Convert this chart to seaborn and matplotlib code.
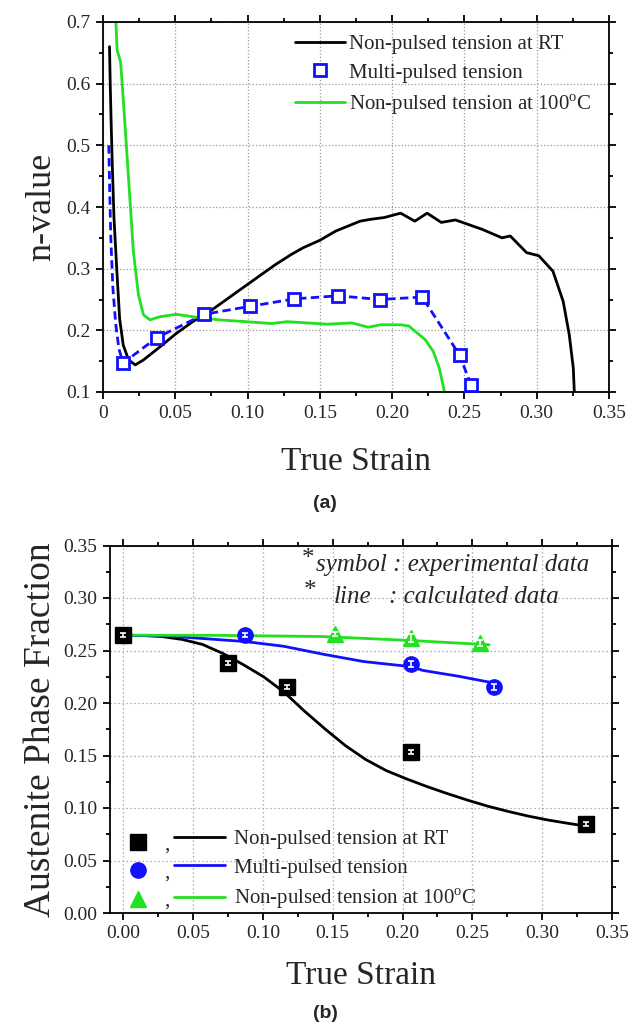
import numpy as np
import pandas as pd
import matplotlib
matplotlib.use("Agg")
import matplotlib.pyplot as plt
import seaborn as sns
from matplotlib.lines import Line2D
from matplotlib.ticker import MultipleLocator

# -------------------------
# (a) n-value vs true strain
# -------------------------
rt_x = [0.0045, 0.0050, 0.0056, 0.0064, 0.0076, 0.0095, 0.0115, 0.0140, 0.0177, 0.0223,
        0.0280, 0.0393, 0.0507, 0.0620, 0.0734, 0.0848, 0.0961, 0.1075, 0.1189, 0.1302,
        0.1385, 0.1500, 0.1610, 0.1778, 0.1850, 0.1947, 0.2059, 0.2157, 0.2242, 0.2340,
        0.2438, 0.2620, 0.2760, 0.2817, 0.2930, 0.3014, 0.3112, 0.3183, 0.3225, 0.3253,
        0.3260]
rt_y = [0.660, 0.600, 0.540, 0.470, 0.382, 0.300, 0.219, 0.176, 0.152, 0.144,
        0.152, 0.173, 0.195, 0.214, 0.230, 0.249, 0.268, 0.287, 0.306, 0.323,
        0.334, 0.346, 0.361, 0.377, 0.380, 0.383, 0.390, 0.377, 0.390, 0.375,
        0.379, 0.364, 0.350, 0.353, 0.326, 0.321, 0.296, 0.247, 0.193, 0.139,
        0.100]

hot_x = [0.0085, 0.0098, 0.0122, 0.0141, 0.0164, 0.0187, 0.0210, 0.0245, 0.0280, 0.0325,
         0.0393, 0.0507, 0.0620, 0.0802, 0.0992, 0.1166, 0.1272, 0.1553, 0.1722, 0.1834,
         0.1919, 0.2059, 0.2115, 0.2228, 0.2284, 0.2326, 0.2362]
hot_y = [0.720, 0.654, 0.635, 0.572, 0.491, 0.410, 0.328, 0.258, 0.225, 0.217,
         0.222, 0.226, 0.222, 0.217, 0.214, 0.211, 0.214, 0.210, 0.212, 0.205,
         0.209, 0.209, 0.207, 0.185, 0.166, 0.139, 0.100]

mp_lead_x = [0.0040, 0.0046, 0.0054, 0.0068, 0.0088, 0.0110]
mp_lead_y = [0.500, 0.430, 0.350, 0.270, 0.210, 0.170]
mp_x = [0.0139, 0.0372, 0.0700, 0.1018, 0.1323, 0.1624, 0.1919, 0.2208, 0.2466, 0.2545]
mp_y = [0.147, 0.188, 0.226, 0.239, 0.251, 0.256, 0.250, 0.254, 0.160, 0.112]

xticks_a = [0, 0.05, 0.10, 0.15, 0.20, 0.25, 0.30, 0.35]
xticklabels_a = ["0", "0.05", "0.10", "0.15", "0.20", "0.25", "0.30", "0.35"]
yticks_a = [0.1, 0.2, 0.3, 0.4, 0.5, 0.6, 0.7]
yticklabels_a = ["0.1", "0.2", "0.3", "0.4", "0.5", "0.6", "0.7"]

# -------------------------
# (b) austenite fraction vs true strain
# -------------------------
exp_rt_x = [0.0, 0.0753, 0.1170, 0.2062, 0.3317]
exp_rt_y = [0.265, 0.238, 0.215, 0.153, 0.085]
exp_mp_x = [0.0875, 0.2062, 0.2655]
exp_mp_y = [0.265, 0.237, 0.215]
exp_hot_x = [0.1517, 0.2062, 0.2558]
exp_hot_y = [0.266, 0.262, 0.257]
err_rt = [0.002, 0.002, 0.002, 0.002, 0.002]
err_mp = [0.002, 0.003, 0.003]
err_hot = [0.002, 0.004, 0.003]

calc_rt_x = [0.0, 0.0131, 0.0277, 0.0423, 0.0569, 0.0715, 0.0861, 0.1006, 0.1152, 0.1298,
             0.1444, 0.1590, 0.1736, 0.1882, 0.2027, 0.2173, 0.2319, 0.2465, 0.2611, 0.2757,
             0.2903, 0.3048, 0.3194, 0.3317]
calc_rt_y = [0.2646, 0.2643, 0.2633, 0.2605, 0.2557, 0.2471, 0.2364, 0.2249, 0.2103, 0.1922,
             0.1754, 0.1595, 0.1462, 0.1357, 0.1278, 0.1205, 0.1138, 0.1075, 0.1017, 0.0967,
             0.0922, 0.0884, 0.0852, 0.0827]
calc_mp_x = [0.0, 0.030, 0.0875, 0.115, 0.143, 0.172, 0.206, 0.2147, 0.240, 0.2655]
calc_mp_y = [0.2646, 0.2640, 0.2585, 0.2540, 0.2465, 0.2395, 0.2346, 0.2310, 0.2255, 0.2190]
calc_hot_x = [0.0, 0.070, 0.143, 0.2062, 0.262]
calc_hot_y = [0.2646, 0.2644, 0.2633, 0.2595, 0.2555]

ticks_b = [0.00, 0.05, 0.10, 0.15, 0.20, 0.25, 0.30, 0.35]
ticklabels_b = ["0.00", "0.05", "0.10", "0.15", "0.20", "0.25", "0.30", "0.35"]

labels = ["Non-pulsed tension at RT", "Multi-pulsed tension",
          "Non-pulsed tension at 100$^\\mathregular{o}$C"]

BLACK = "#000000"
BLUE = "#1010ff"
GREEN = "#22e022"

sns.set_style("ticks")
plt.rcParams["font.family"] = ["Liberation Serif", "DejaVu Serif"]
plt.rcParams["mathtext.fontset"] = "custom"
plt.rcParams["mathtext.rm"] = "Liberation Serif"


def style_axes(ax, xminor, yminor, grid_ls):
    for sp in ax.spines.values():
        sp.set_linewidth(1.3)
        sp.set_color("black")
        sp.set_visible(True)
    ax.xaxis.set_minor_locator(MultipleLocator(xminor))
    ax.yaxis.set_minor_locator(MultipleLocator(yminor))
    ax.tick_params(which="both", direction="out", top=True, right=True,
                   labeltop=False, labelright=False, width=1.3, color="black")
    ax.tick_params(which="major", length=5, labelsize=14, pad=4)
    ax.tick_params(which="minor", length=3)
    ax.grid(True, which="major", color="#9a9a9a", linestyle=grid_ls, linewidth=0.9)
    ax.set_axisbelow(True)


fig = plt.figure(figsize=(6.38, 10.28), dpi=100)

# -------------------------
# panel (a)
# -------------------------
ax1 = fig.add_axes([103 / 638, 1 - 392 / 1028, (609 - 103) / 638, (392 - 22) / 1028])

sns.lineplot(x=rt_x, y=rt_y, ax=ax1, color=BLACK, lw=2.0, sort=False, estimator=None)
sns.lineplot(x=hot_x, y=hot_y, ax=ax1, color=GREEN, lw=2.0, sort=False, estimator=None)
sns.lineplot(x=mp_lead_x + mp_x, y=mp_lead_y + mp_y, ax=ax1, color=BLUE, lw=2.0,
             linestyle=(0, (3, 1.6)), sort=False, estimator=None)
ax1.plot(mp_x, mp_y, ls="none", marker="s", ms=8, mfc="white", mec=BLUE, mew=2.0, zorder=5)

ax1.set_xlim(0, 0.35)
ax1.set_ylim(0.1, 0.7)
ax1.set_xticks(xticks_a)
ax1.set_xticklabels(xticklabels_a)
ax1.set_yticks(yticks_a)
ax1.set_yticklabels(yticklabels_a)
style_axes(ax1, 0.025, 0.05, ":")
ax1.set_xlabel("True Strain", fontsize=24, labelpad=18)
ax1.set_ylabel("n-value", fontsize=26, labelpad=6)

handles_a = [
    Line2D([], [], color=BLACK, lw=2.0),
    Line2D([], [], ls="none", marker="s", ms=8, mfc="white", mec=BLUE, mew=2.0),
    Line2D([], [], color=GREEN, lw=2.0),
]
ax1.legend(handles_a, labels, loc="upper right", bbox_to_anchor=(0.965, 0.967),
           frameon=False, fontsize=15, handlelength=2.4, handletextpad=0.2,
           labelspacing=0.45, borderpad=0, borderaxespad=0)

fig.text(325 / 638, 1 - 503 / 1028, "(a)", ha="center", va="center", fontsize=14,
         fontweight="bold", family="Liberation Sans")

# -------------------------
# panel (b)
# -------------------------
ax2 = fig.add_axes([110 / 638, 1 - 913 / 1028, (612 - 110) / 638, (913 - 545.5) / 1028])

sns.lineplot(x=calc_rt_x, y=calc_rt_y, ax=ax2, color=BLACK, lw=2.0, sort=False, estimator=None)
sns.lineplot(x=calc_mp_x, y=calc_mp_y, ax=ax2, color=BLUE, lw=2.0, sort=False, estimator=None)
sns.lineplot(x=calc_hot_x, y=calc_hot_y, ax=ax2, color=GREEN, lw=2.0, sort=False, estimator=None)

ax2.plot(exp_rt_x, exp_rt_y, ls="none", marker="s", ms=11, color=BLACK, zorder=5)
ax2.plot(exp_mp_x, exp_mp_y, ls="none", marker="o", ms=11, color=BLUE, zorder=5)
ax2.plot(exp_hot_x, exp_hot_y, ls="none", marker="^", ms=12, color=GREEN, zorder=5)
for xs, ys, es in [(exp_rt_x, exp_rt_y, err_rt), (exp_mp_x, exp_mp_y, err_mp),
                   (exp_hot_x, exp_hot_y, err_hot)]:
    ax2.errorbar(xs, ys, yerr=es, ls="none", ecolor="white", elinewidth=1.2,
                 capsize=2.5, capthick=1.2, zorder=6)

ax2.set_xlim(-0.0095, 0.35)
ax2.set_ylim(0, 0.35)
ax2.set_xticks(ticks_b)
ax2.set_xticklabels(ticklabels_b)
ax2.set_yticks(ticks_b)
ax2.set_yticklabels(ticklabels_b)
style_axes(ax2, 0.025, 0.025, (0, (1, 2.2)))
ax2.set_xlabel("True Strain", fontsize=24, labelpad=13)
ax2.set_ylabel("Austenite Phase Fraction", fontsize=27, labelpad=4)

ax2.text(0.382, 0.962, "*", transform=ax2.transAxes, fontsize=18, ha="left", va="center")
ax2.text(0.410, 0.947, "symbol : experimental data", transform=ax2.transAxes,
         fontsize=18, style="italic", ha="left", va="center")
ax2.text(0.386, 0.875, "*", transform=ax2.transAxes, fontsize=18, ha="left", va="center")
ax2.text(0.446, 0.860, "line", transform=ax2.transAxes, fontsize=18, style="italic",
         ha="left", va="center")
ax2.text(0.555, 0.860, ": calculated data", transform=ax2.transAxes, fontsize=18,
         style="italic", ha="left", va="center")

marker_handles = [
    Line2D([], [], ls="none", marker="s", ms=11, color=BLACK),
    Line2D([], [], ls="none", marker="o", ms=11, color=BLUE),
    Line2D([], [], ls="none", marker="^", ms=12, color=GREEN),
]
leg_m = ax2.legend(marker_handles, [",", ",", ","], loc="lower left",
                   bbox_to_anchor=(0.035, 0.006), frameon=False, fontsize=15,
                   handlelength=1.0, handletextpad=0.75, labelspacing=0.42,
                   borderpad=0, borderaxespad=0)
ax2.add_artist(leg_m)
line_handles = [
    Line2D([], [], color=BLACK, lw=2.0),
    Line2D([], [], color=BLUE, lw=2.0),
    Line2D([], [], color=GREEN, lw=2.0),
]
ax2.legend(line_handles, labels, loc="lower left", bbox_to_anchor=(0.127, 0.006),
           frameon=False, fontsize=15, handlelength=2.45, handletextpad=0.45,
           labelspacing=0.42, borderpad=0, borderaxespad=0)

fig.text(325 / 638, 1 - 1013 / 1028, "(b)", ha="center", va="center", fontsize=14,
         fontweight="bold", family="Liberation Sans")

fig.savefig("out.png", dpi=100)
plt.close(fig)
